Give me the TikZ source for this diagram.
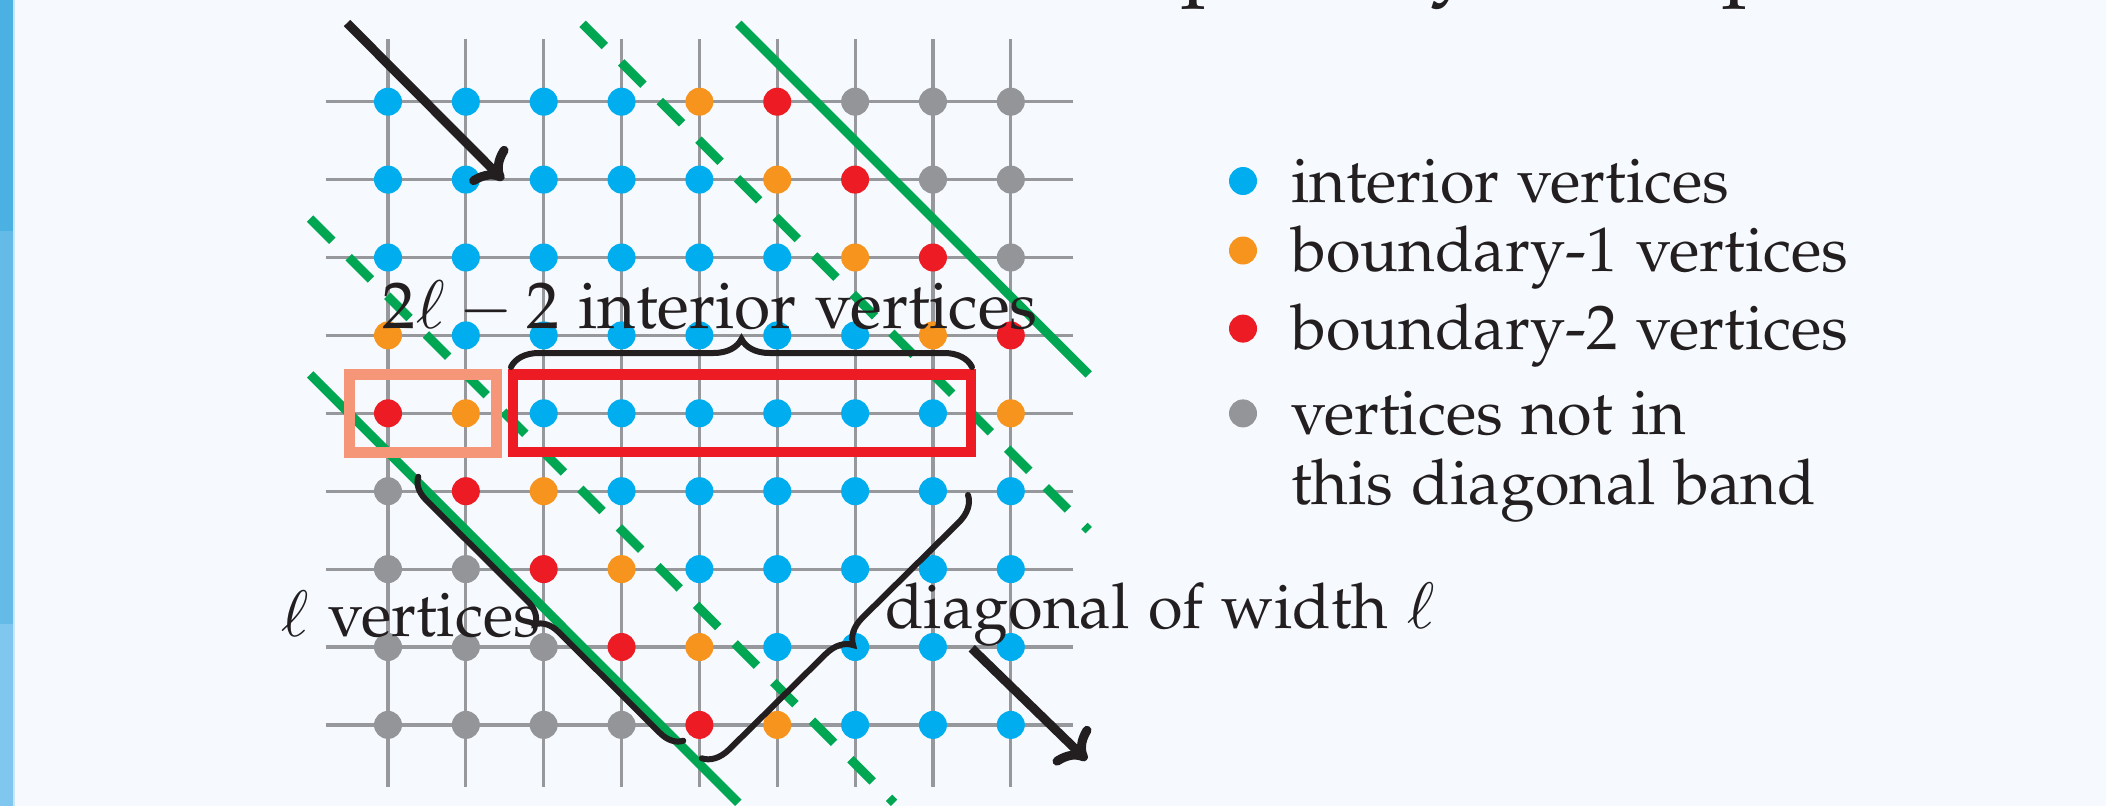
\documentclass[tikz,border=0pt]{standalone}
\usepackage[T1]{fontenc}
\usepackage[sc]{mathpazo}
\usetikzlibrary{arrows.meta,decorations.pathreplacing}
\definecolor{bgc}{RGB}{246,250,254}
\definecolor{cblue}{RGB}{0,174,239}
\definecolor{corange}{RGB}{247,148,29}
\definecolor{cred}{RGB}{237,28,36}
\definecolor{cgray}{RGB}{147,149,152}
\definecolor{cgreen}{RGB}{0,166,81}
\definecolor{csalmon}{RGB}{246,150,121}
\definecolor{cink}{RGB}{35,31,32}
\definecolor{cgrid}{RGB}{150,152,155}
\definecolor{barA}{RGB}{75,176,226}
\definecolor{barB}{RGB}{100,187,232}
\definecolor{barC}{RGB}{127,199,238}
\definecolor{barD}{RGB}{200,230,248}
\tikzset{
  dot/.style={circle, inner sep=0pt, minimum size=28pt},
  gridline/.style={cgrid, line width=3.2pt},
  gsolid/.style={cgreen, line width=9pt},
  gdash/.style={cgreen, line width=9pt, dash pattern=on 31.4pt off 23.2pt},
  bracestyle/.style={cink, line width=6pt, line cap=round, decorate, decoration={brace, amplitude=#1}},
  bigarrow/.style={cink, line width=9pt, -{Computer Modern Rightarrow[length=25pt, width=52pt]}},
  lbl/.style={cink, inner sep=0pt, font=\fontsize{63}{76}\selectfont},
  biglbl/.style={cink, inner sep=0pt, font=\fontsize{66}{78}\selectfont},
  titlefrag/.style={cink, inner sep=0pt, anchor=base west, font=\fontsize{89}{100}\selectfont},
}
\begin{document}
\begin{tikzpicture}[x=1pt,y=-1pt]
\useasboundingbox (0,0) rectangle (2106,806);
\fill[bgc] (0,0) rectangle (2106,806);
\clip (0,0) rectangle (2106,806);
% left bar
\fill[barA] (0,0) rectangle (13.3,231);
\fill[barB] (0,231) rectangle (13.3,624);
\fill[barC] (0,624) rectangle (13.3,806);
\fill[barD] (13.3,0) rectangle (14.7,806);
% fragments of the title above
\node[titlefrag] (tp1) at (1181,-15.7) {p};
\node[titlefrag] (ty) at (1429,-15.7) {y};
\node[titlefrag] (tp2) at (1722.6,-15.7) {p};
% grid
\begin{scope}[shift={(388,101.7)}, x=77.85pt, y=-77.9pt]
  \foreach \k in {0,...,8}{
    \draw[gridline] (\k,-0.8) -- (\k,8.8);
    \draw[gridline] (-0.8,\k) -- (8.8,\k);
  }
  \foreach \i in {0,...,8}{
    \foreach \j in {0,...,8}{
      \pgfmathtruncatemacro\dd{\i-\j}
      \ifnum\dd>5 \def\cc{cgray}\else
      \ifnum\dd=5 \def\cc{cred}\else
      \ifnum\dd=4 \def\cc{corange}\else
      \ifnum\dd>-3 \def\cc{cblue}\else
      \ifnum\dd=-3 \def\cc{corange}\else
      \ifnum\dd=-4 \def\cc{cred}\else
      \def\cc{cgray}\fi\fi\fi\fi\fi\fi
      \node[dot, fill=\cc] (v\i-\j) at (\i,\j) {};
    }
  }
  % diagonal band lines
  \coordinate (s1a) at (-1,3.5);  \coordinate (s1b) at (4.5,9);
  \coordinate (s2a) at (4.5,-1);  \coordinate (s2b) at (9,3.5);
  \coordinate (d1a) at (-1,1.5);  \coordinate (d1b) at (6.5,9);
  \coordinate (d2a) at (2.5,-1);  \coordinate (d2b) at (9,5.5);
  \draw[gsolid] (s1a) -- (s1b);
  \draw[gsolid] (s2a) -- (s2b);
  \draw[gdash] (d1a) -- (d1b);
  \draw[gdash] (d2a) -- (d2b);
\end{scope}
% highlight boxes
\draw[csalmon, line width=11pt] (349.5,374.7) rectangle (496,452);
\draw[cred, line width=10.5pt] (512.8,374.7) rectangle (971,452);
% braces
\coordinate (b1a) at (511,367);   \coordinate (b1b) at (972,367);
\coordinate (b2a) at (683.3,740.7); \coordinate (b2b) at (418.3,476.7);
\coordinate (b3a) at (968,495);   \coordinate (b3b) at (701.7,758.3);
\draw[bracestyle=28pt] (b1a) -- (b1b);
\draw[bracestyle=22pt] (b2a) -- (b2b);
\draw[bracestyle=26pt] (b3a) -- (b3b);
% arrows
\coordinate (a1s) at (347,23);    \coordinate (a1e) at (503.3,180);
\coordinate (a2s) at (971.7,648.3); \coordinate (a2e) at (1086.7,760);
\draw[bigarrow] (a1s) -- (a1e);
\draw[bigarrow] (a2s) -- (a2e);
% labels
\node[biglbl, anchor=base] (lint) at (710,328.3) {$2\ell - 2$ interior vertices};
\node[lbl, anchor=base] (lver) at (410.4,636.7) {$\ell$ vertices};
\node[lbl, anchor=base] (ldiag) at (1160.5,628.4) {diagonal of width $\ell$};
% legend
\node[dot, fill=cblue] (k1) at (1243,181) {};
\node[dot, fill=corange] (k2) at (1243,250.5) {};
\node[dot, fill=cred] (k3) at (1243,328.6) {};
\node[dot, fill=cgray] (k4) at (1243,413.4) {};
\node[lbl, anchor=base west] (e1) at (1291,202) {interior vertices};
\node[lbl, anchor=base west] (e2) at (1291,271.5) {boundary-1 vertices};
\node[lbl, anchor=base west] (e3) at (1291,349.6) {boundary-2 vertices};
\node[lbl, anchor=base west] (e4) at (1291,434.4) {vertices not in};
\node[lbl, anchor=base west] (e5) at (1291,504) {this diagonal band};
\end{tikzpicture}
\end{document}
